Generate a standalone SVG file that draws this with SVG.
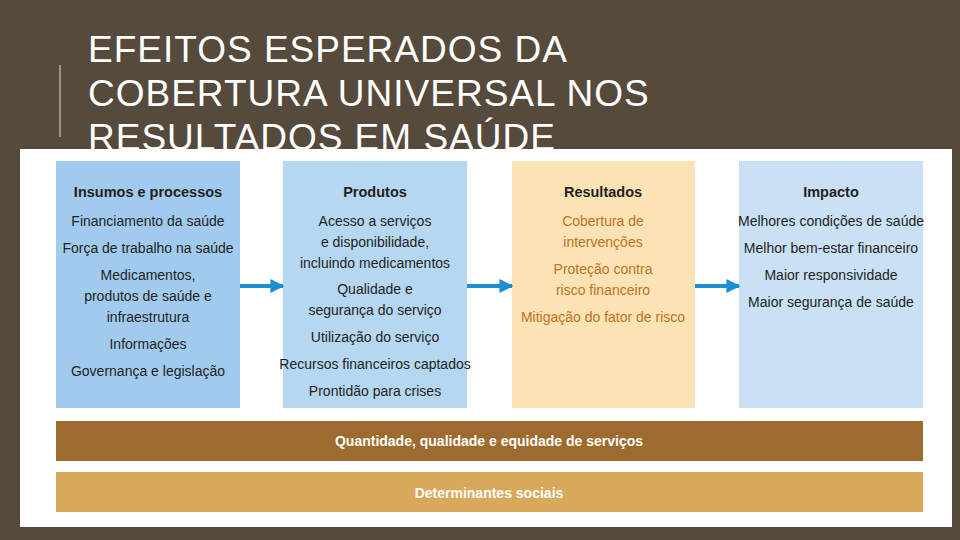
<svg xmlns="http://www.w3.org/2000/svg" width="960" height="540" viewBox="0 0 960 540">
<defs>
<style>
.t{font-family:"Liberation Sans",Arial,sans-serif;font-size:14px;fill:#231f20;text-anchor:middle}
.h{font-weight:bold;font-size:14.5px}
.o{fill:#c2721c}
.b{font-family:"Liberation Sans",Arial,sans-serif;font-size:14px;font-weight:bold;fill:#fff;text-anchor:middle}
.title{font-family:"Liberation Sans",Arial,sans-serif;font-size:37px;fill:#fff;letter-spacing:1px}
</style>
<marker id="ah" viewBox="0 0 10 10" refX="9" refY="5" markerWidth="3.5" markerHeight="4.5" orient="auto" markerUnits="strokeWidth"><path d="M0,0L10,5L0,10z" fill="#1c8fd0"/></marker>
</defs>
<rect width="960" height="540" fill="#554a3c"/>
<line x1="60" y1="65" x2="60" y2="137" stroke="#9a948c" stroke-width="2"/>
<text class="title" x="88" y="62">EFEITOS ESPERADOS DA</text>
<text class="title" x="88" y="106">COBERTURA UNIVERSAL NOS</text>
<text class="title" x="88" y="150">RESULTADOS EM SAÚDE</text>
<rect x="20" y="149" width="932" height="378" fill="#fff"/>
<g id="insumos"><rect x="56" y="161" width="184" height="247" fill="#a0cbee"/>
<text class="t"><tspan class="h" x="148" y="197">Insumos e processos</tspan><tspan x="148" y="226">Financiamento da saúde</tspan><tspan x="148" y="253">Força de trabalho na saúde</tspan><tspan x="148" y="280">Medicamentos,</tspan><tspan x="148" y="301">produtos de saúde e</tspan><tspan x="148" y="322">infraestrutura</tspan><tspan x="148" y="349">Informações</tspan><tspan x="148" y="376">Governança e legislação</tspan></text></g>
<g id="produtos"><rect x="283" y="161" width="184" height="247" fill="#b5d7f2"/>
<text class="t"><tspan class="h" x="375" y="197">Produtos</tspan><tspan x="375" y="226">Acesso a serviços</tspan><tspan x="375" y="247">e disponibilidade,</tspan><tspan x="375" y="268">incluindo medicamentos</tspan><tspan x="375" y="294">Qualidade e</tspan><tspan x="375" y="315">segurança do serviço</tspan><tspan x="375" y="342">Utilização do serviço</tspan><tspan x="375" y="369">Recursos financeiros captados</tspan><tspan x="375" y="396">Prontidão para crises</tspan></text></g>
<g id="resultados"><rect x="512" y="161" width="183" height="247" fill="#fbe3b6"/>
<text class="t"><tspan class="h" x="603" y="197">Resultados</tspan><tspan class="o" x="603" y="226">Cobertura de</tspan><tspan class="o" x="603" y="247">intervenções</tspan><tspan class="o" x="603" y="274">Proteção contra</tspan><tspan class="o" x="603" y="295">risco financeiro</tspan><tspan class="o" x="603" y="322">Mitigação do fator de risco</tspan></text></g>
<g id="impacto"><rect x="739" y="161" width="184" height="247" fill="#c9e0f5"/>
<text class="t"><tspan class="h" x="831" y="197">Impacto</tspan><tspan x="831" y="226">Melhores condições de saúde</tspan><tspan x="831" y="253">Melhor bem-estar financeiro</tspan><tspan x="831" y="280">Maior responsividade</tspan><tspan x="831" y="307">Maior segurança de saúde</tspan></text></g>
<g id="quantidade"><rect x="56" y="421" width="867" height="40" fill="#9d6b2d"/><text class="b" x="489" y="446">Quantidade, qualidade e equidade de serviços</text></g>
<g id="determinantes"><rect x="56" y="472" width="867" height="40" fill="#d9a95b"/><text class="b" x="489" y="498">Determinantes sociais</text></g>
<g id="connectors" stroke="#1c8fd0" stroke-width="4" fill="none">
<line x1="240" y1="286" x2="283" y2="286" marker-end="url(#ah)"/>
<line x1="467" y1="286" x2="512" y2="286" marker-end="url(#ah)"/>
<line x1="695" y1="286" x2="739" y2="286" marker-end="url(#ah)"/>
</g>
</svg>
